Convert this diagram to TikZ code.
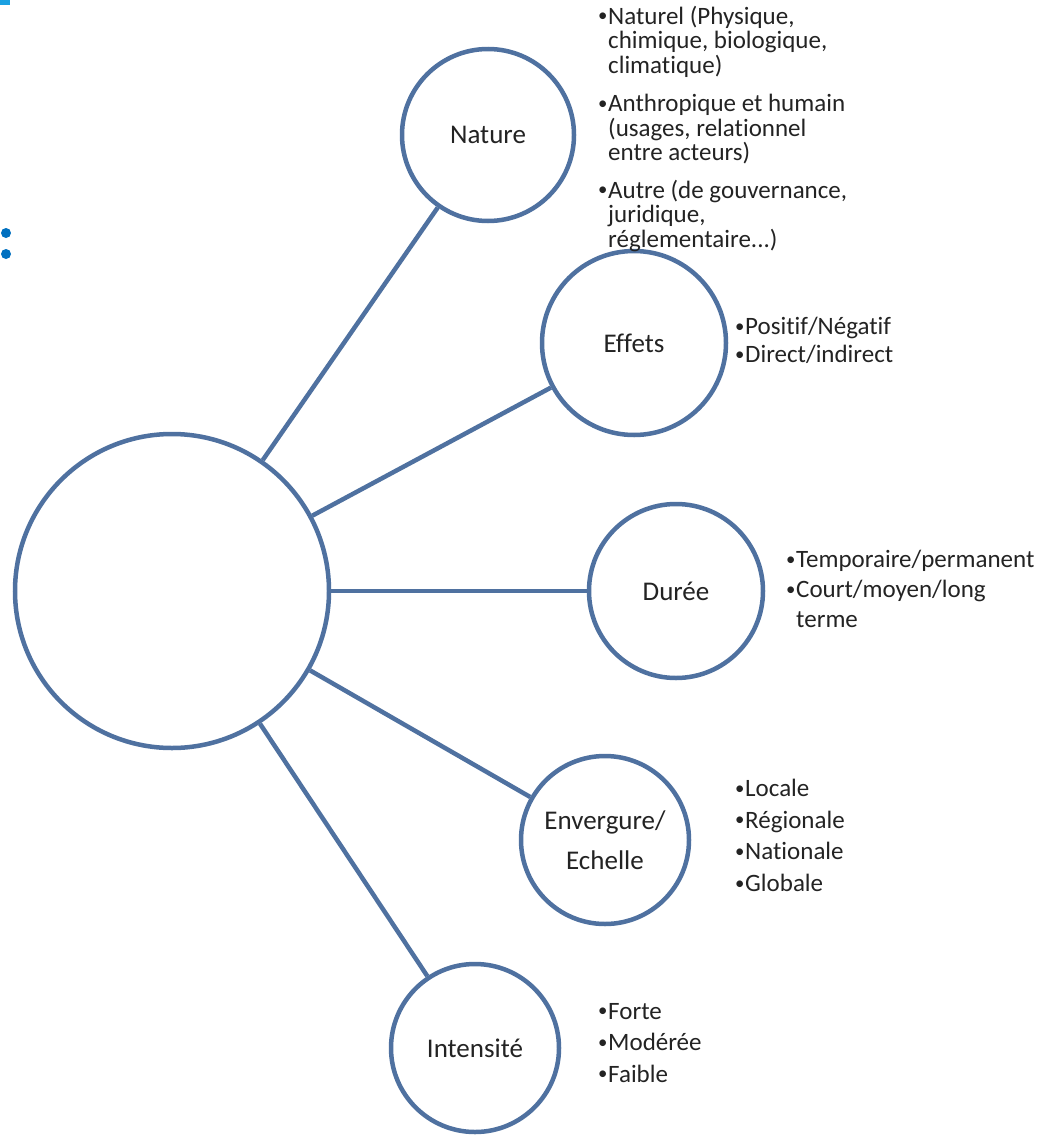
\documentclass[tikz,border=0pt]{standalone}
\usepackage{fontspec}
\setmainfont{Carlito}[Ligatures=NoCommon]
\usetikzlibrary{positioning}
\definecolor{anneau}{RGB}{79,113,160}
\definecolor{texte}{RGB}{35,35,35}
\definecolor{cyanbord}{RGB}{27,161,226}
\definecolor{bleupoint}{RGB}{0,112,192}
\newcommand{\puce}{\makebox[11pt][l]{\hspace{1pt}\raisebox{0.1em}{\scalebox{0.75}{\textbullet}}}}
\newcommand{\suite}{\hspace*{11pt}}

\begin{document}
\begin{tikzpicture}[
    x=1pt, y=-1pt,
    rond/.style={circle, draw=anneau, line width=4.5pt, fill=white,
        inner sep=0pt, text=texte, align=center,
        font=\fontsize{27}{40}\selectfont},
    liaison/.style={anneau, line width=4.5pt},
    liste/.style={anchor=north west, inner sep=0pt, align=left,
        text=texte}
]

    \useasboundingbox (0,0) rectangle (1044,1135);

    % Marques bleues
    \fill[cyanbord] (0,0) rectangle (10,5);
    \fill[bleupoint] (6,233) circle (5pt);
    \fill[bleupoint] (6,254) circle (5pt);

    % Cercle central
    \node[rond, minimum size=314pt] (centre) at (172,591) {};

    % Cercles
    \node[rond, minimum size=172pt] (nature) at (488,135) {Nature};
    \node[rond, minimum size=184pt] (effets) at (634,343) {Effets};
    \node[rond, minimum size=174pt] (duree) at (676,591) {Durée};
    \node[rond, minimum size=168pt] (envergure) at (605,840) {Envergure/\\Echelle};
    \node[rond, minimum size=168pt] (intensite) at (475,1048) {Intensité};

    % Liaisons
    \draw[liaison] (centre) -- (nature);
    \draw[liaison] (centre) -- (effets);
    \draw[liaison] (centre) -- (duree);
    \draw[liaison] (centre) -- (envergure);
    \draw[liaison] (centre) -- (intensite);

    % Listes
    \node[liste, font=\fontsize{25}{24.5}\selectfont] (lnature) at (597,6)
        {\puce Naturel (Physique,\\
         \suite chimique, biologique,\\
         \suite climatique)\\[14pt]
         \puce Anthropique et humain\\
         \suite (usages, relationnel\\
         \suite entre acteurs)\\[13pt]
         \puce Autre (de gouvernance,\\
         \suite juridique,\\
         \suite réglementaire...)};
    \node[liste, font=\fontsize{25}{28}\selectfont] (leffets) at (734,317)
        {\puce Positif/Négatif\\
         \puce Direct/indirect};
    \node[liste, font=\fontsize{25}{30}\selectfont] (lduree) at (785,550)
        {\puce Temporaire/permanent\\
         \puce Court/moyen/long\\
         \suite terme};
    \node[liste, font=\fontsize{25}{31.7}\selectfont] (lenvergure) at (734,779)
        {\puce Locale\\
         \puce Régionale\\
         \puce Nationale\\
         \puce Globale};
    \node[liste, font=\fontsize{25}{31.5}\selectfont] (lintensite) at (597,1003)
        {\puce Forte\\
         \puce Modérée\\
         \puce Faible};

\end{tikzpicture}
\end{document}
